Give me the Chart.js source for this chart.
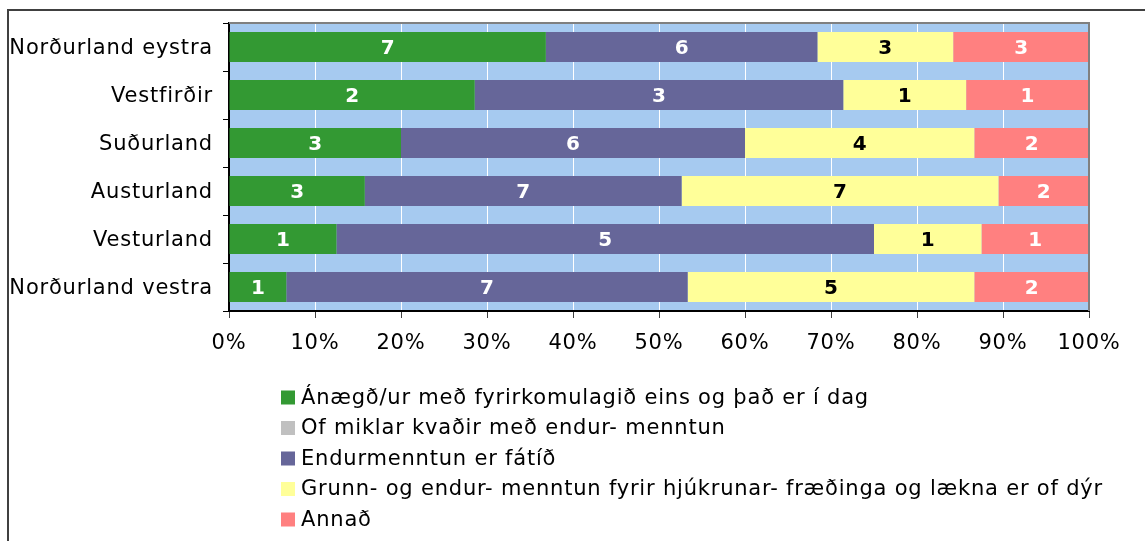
<!DOCTYPE html>
<html>
<head>
<meta charset="utf-8">
<script src="https://cdn.jsdelivr.net/npm/chart.js@4.4.1/dist/chart.umd.min.js"></script>
<style>
html,body{margin:0;padding:0;background:#fff;}
canvas{display:block;}
</style>
</head>
<body>
<canvas id="c" width="1145" height="541"></canvas>
<script>
const categories = ['Norðurland eystra','Vestfirðir','Suðurland','Austurland','Vesturland','Norðurland vestra'];
const seriesNames = [
  'Ánægð/ur með fyrirkomulagið eins og það er í dag',
  'Of miklar kvaðir með endur- menntun',
  'Endurmenntun er fátíð',
  'Grunn- og endur- menntun fyrir hjúkrunar- fræðinga og lækna er of dýr',
  'Annað'
];
const anaegd   = [7,2,3,3,1,1];
const ofMiklar = [0,0,0,0,0,0];
const fatid    = [6,3,6,7,5,7];
const grunn    = [3,1,4,7,1,5];
const annad    = [3,1,2,2,1,2];
const xTickValues = [0,10,20,30,40,50,60,70,80,90,100];

const seriesCounts = [anaegd, ofMiklar, fatid, grunn, annad];
const seriesColors = ['#339933','#C0C0C0','#666699','#FFFF99','#FF8080'];
const labelColors  = ['#FFFFFF','#000000','#FFFFFF','#000000','#FFFFFF'];

const totals = categories.map((_, i) => seriesCounts.reduce((s, arr) => s + arr[i], 0));

const datasets = seriesCounts.map((arr, k) => ({
  label: seriesNames[k],
  data: arr.map((v, i) => v / totals[i] * 100),
  counts: arr,
  backgroundColor: seriesColors[k],
  borderWidth: 0,
  categoryPercentage: 1.0,
  barPercentage: 0.625,
  labelColor: labelColors[k]
}));

const FONT = "'DejaVu Sans', Verdana, sans-serif";
const SPACING = '0.8px';

const framePlugin = {
  id: 'frame',
  beforeLayout(chart) { chart.ctx.letterSpacing = SPACING; },
  beforeDraw(chart) {
    const ctx = chart.ctx;
    ctx.letterSpacing = SPACING;
    const a = chart.chartArea;
    ctx.save();
    ctx.fillStyle = '#FFFFFF';
    ctx.fillRect(0, 0, chart.width, chart.height);
    ctx.strokeStyle = '#404040';
    ctx.lineWidth = 2;
    ctx.beginPath();
    ctx.moveTo(8, chart.height + 5);
    ctx.lineTo(8, 10);
    ctx.lineTo(chart.width + 5, 10);
    ctx.stroke();
    ctx.fillStyle = '#A6CAF0';
    ctx.fillRect(a.left, a.top, a.right - a.left, a.bottom - a.top);
    ctx.restore();
  },
  afterDraw(chart) {
    const ctx = chart.ctx;
    const a = chart.chartArea;
    ctx.save();
    ctx.strokeStyle = '#808080';
    ctx.lineWidth = 2;
    ctx.beginPath();
    ctx.moveTo(a.left, a.top);
    ctx.lineTo(a.right, a.top);
    ctx.lineTo(a.right, a.bottom);
    ctx.stroke();
    ctx.font = '21px ' + FONT;
    ctx.letterSpacing = SPACING;
    ctx.textBaseline = 'middle';
    ctx.textAlign = 'left';
    const x0 = 281, y0 = 397.5, step = 30.5;
    chart.data.datasets.forEach((ds, k) => {
      const y = y0 + k * step;
      ctx.fillStyle = ds.backgroundColor;
      ctx.fillRect(x0, y - 7, 14, 14);
      ctx.fillStyle = '#000000';
      ctx.fillText(ds.label, x0 + 20, y + 1);
    });
    ctx.restore();
  }
};

const barLabelPlugin = {
  id: 'barLabels',
  afterDatasetsDraw(chart) {
    const ctx = chart.ctx;
    ctx.save();
    ctx.font = 'bold 20px ' + FONT;
    ctx.letterSpacing = '0px';
    ctx.textAlign = 'center';
    ctx.textBaseline = 'middle';
    chart.data.datasets.forEach((ds, k) => {
      const meta = chart.getDatasetMeta(k);
      meta.data.forEach((el, i) => {
        const c = ds.counts[i];
        if (!c) return;
        const p = el.getProps(['x', 'y', 'base'], true);
        ctx.fillStyle = ds.labelColor;
        ctx.fillText(String(c), (p.x + p.base) / 2, p.y + 2);
      });
    });
    ctx.restore();
  }
};

new Chart(document.getElementById('c'), {
  type: 'bar',
  data: { labels: categories, datasets },
  plugins: [framePlugin, barLabelPlugin],
  options: {
    indexAxis: 'y',
    responsive: false,
    animation: false,
    devicePixelRatio: 1,
    layout: { padding: { left: 0, top: 23, right: 56, bottom: 0 } },
    plugins: { legend: { display: false }, tooltip: { enabled: false } },
    scales: {
      x: {
        stacked: true,
        min: 0, max: 100,
        afterBuildTicks(scale) { scale.ticks = xTickValues.map(v => ({ value: v })); },
        afterFit(scale) { scale.height = 230; },
        ticks: {
          callback: v => v + '%',
          color: '#000',
          font: { family: FONT, size: 21 },
          padding: 13,
          maxRotation: 0
        },
        grid: { color: '#FFFFFF', lineWidth: 1, tickColor: '#404040', tickLength: 7, drawOnChartArea: true },
        border: { color: '#000000', width: 2 }
      },
      y: {
        stacked: true,
        afterFit(scale) { scale.width = 229; },
        ticks: {
          color: '#000',
          font: { family: FONT, size: 21 },
          padding: 10,
          labelOffset: 2
        },
        grid: { drawOnChartArea: false, tickColor: '#000000', tickLength: 6, offset: true },
        border: { color: '#000000', width: 2 }
      }
    }
  }
});
</script>
</body>
</html>
